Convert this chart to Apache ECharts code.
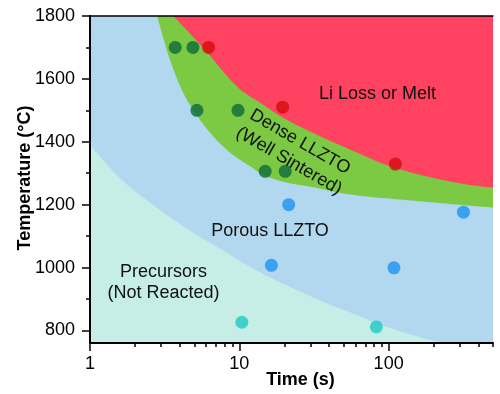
<!DOCTYPE html>
<html>
<head>
<meta charset="utf-8">
<script src="https://cdn.jsdelivr.net/npm/echarts@6/dist/echarts.min.js"></script>
<style>
html,body{margin:0;padding:0;background:#fff;}
#chart{width:500px;height:394px;}
</style>
</head>
<body>
<div id="chart"></div>
<script>
// ---- Data ----
const tempTicks = [800, 1000, 1200, 1400, 1600, 1800];
const tempMinorTicks = [900, 1100, 1300, 1500, 1700];
const timeTicks = [1, 10, 100];
const timeMinorTicks = [2, 3, 4, 5, 6, 7, 8, 9, 20, 30, 40, 50, 60, 70, 80, 90, 200, 300, 400, 500];

// region boundaries [time (s), temperature (°C)]
const meltBoundary = [[3.61, 1800], [5.65, 1702], [9.7, 1575], [13.8, 1524], [19.7, 1476], [30, 1432], [55.6, 1375], [111, 1317], [261, 1273], [500, 1254]];
const denseBoundary = [[2.82, 1800], [3.44, 1660], [4.21, 1556], [4.91, 1502], [6.38, 1429], [8.7, 1365], [11.9, 1321], [14.5, 1295], [19.7, 1273], [30, 1257], [55.6, 1232], [120, 1216], [500, 1190]];
const precursorBoundary = [[1, 1390], [1.62, 1281], [2.72, 1195], [4.55, 1121], [7.6, 1057], [12.7, 994], [21.3, 941], [35.7, 893], [59.8, 851], [100, 809], [167, 777], [241, 760]];

// experimental points [time (s), temperature (°C)]
const densePoints = [[3.72, 1700], [4.89, 1700], [5.2, 1500], [9.8, 1500], [14.9, 1306], [20.3, 1306]];
const meltPoints = [[6.22, 1700], [19.5, 1510], [111, 1329]];
const porousPoints = [[21.4, 1200], [16.4, 1007], [108.6, 999], [317, 1176]];
const precursorPoints = [[10.4, 826], [82.7, 811]];

// ---- Chart ----
const FONT = 'Liberation Sans, Arial, sans-serif';
const TMIN = 1, TMAX = 500;
const chart = echarts.init(document.getElementById('chart'), null, {renderer: 'canvas'});

// log-space helper axes used only to place tick marks/labels of the log time axis
const logTicks = timeTicks.map(v => Math.log10(v));
const logMinorTicks = timeMinorTicks.map(v => Math.log10(v));
const tickX = {type: 'value', min: Math.log10(TMIN), max: Math.log10(TMAX), gridIndex: 0, z: 10, splitLine: {show: false}, axisLine: {show: false}};
const baseY = {type: 'value', min: 760, max: 1800, minInterval: 200, maxInterval: 200, gridIndex: 0, z: 10, splitLine: {show: false}};

const option = {
  animation: false,
  grid: {left: 90, top: 16, right: 7, bottom: 51, show: true, backgroundColor: '#b2d8ef', borderWidth: 0},
  xAxis: [
    {type: 'log', logBase: 10, min: TMIN, max: TMAX, position: 'bottom', z: 10, splitLine: {show: false},
      axisLine: {show: true, lineStyle: {color: '#000', width: 2}}, axisTick: {show: false}, axisLabel: {show: false}},
    Object.assign({}, tickX, {
      position: 'bottom',
      axisTick: {show: true, inside: false, length: 8, lineStyle: {color: '#000', width: 1.5}, customValues: logTicks},
      axisLabel: {show: true, margin: 12, color: '#000', fontSize: 18, fontFamily: FONT, customValues: logTicks,
        formatter: v => String(Math.round(Math.pow(10, v)))}
    }),
    Object.assign({}, tickX, {
      position: 'bottom',
      axisTick: {show: true, inside: false, length: 4, lineStyle: {color: '#000', width: 1.5}, customValues: logMinorTicks},
      axisLabel: {show: false}
    }),
    Object.assign({}, tickX, {
      position: 'top',
      axisLine: {show: true, lineStyle: {color: '#000', width: 1.5}},
      axisTick: {show: false},
      axisLabel: {show: false}
    })
  ],
  yAxis: [
    Object.assign({}, baseY, {
      position: 'left',
      axisLine: {show: true, lineStyle: {color: '#000', width: 2}},
      axisTick: {show: true, inside: false, length: 8, lineStyle: {color: '#000', width: 1.5}, customValues: tempTicks},
      axisLabel: {show: true, margin: 15, color: '#000', fontSize: 18, fontFamily: FONT, customValues: tempTicks,
        formatter: v => String(v)}
    }),
    Object.assign({}, baseY, {
      position: 'left',
      axisLine: {show: false},
      axisTick: {show: true, inside: false, length: 4, lineStyle: {color: '#000', width: 1.5}, customValues: tempMinorTicks},
      axisLabel: {show: false}
    }),
    Object.assign({}, baseY, {
      position: 'right',
      axisLine: {show: true, lineStyle: {color: '#000', width: 1.5}},
      axisTick: {show: false},
      axisLabel: {show: false}
    })
  ],
  series: [
    {type: 'line', data: precursorBoundary, smooth: 0.4, symbol: 'none', lineStyle: {width: 0}, areaStyle: {color: '#c6ede6', origin: 'start', opacity: 1}, z: 1},
    {type: 'line', data: denseBoundary, smooth: 0.4, symbol: 'none', lineStyle: {width: 0}, areaStyle: {color: '#7cc943', origin: 'end', opacity: 1}, z: 1},
    {type: 'line', data: meltBoundary, smooth: 0.4, symbol: 'none', lineStyle: {width: 0}, areaStyle: {color: '#ff425f', origin: 'end', opacity: 1}, z: 1},
    {type: 'scatter', data: densePoints, symbolSize: 13, itemStyle: {color: '#0c6a3b'}, z: 5},
    {type: 'scatter', data: meltPoints, symbolSize: 13, itemStyle: {color: '#d40b0b'}, z: 5},
    {type: 'scatter', data: porousPoints, symbolSize: 13, itemStyle: {color: '#1b92f2'}, z: 5},
    {type: 'scatter', data: precursorPoints, symbolSize: 13, itemStyle: {color: '#1ec9c6'}, z: 5}
  ],
  graphic: [
    {type: 'text', x: 377.5, y: 94.5, z: 20, style: {text: 'Li Loss or Melt', font: '18px ' + FONT, fill: '#111', align: 'center', verticalAlign: 'middle'}},
    {type: 'text', x: 294.5, y: 151.5, rotation: -30 * Math.PI / 180, z: 20, style: {text: 'Dense LLZTO\n(Well Sintered)', font: '18px ' + FONT, lineHeight: 22, fill: '#111', align: 'center', verticalAlign: 'middle'}},
    {type: 'text', x: 270, y: 231.5, z: 20, style: {text: 'Porous LLZTO', font: '18px ' + FONT, fill: '#111', align: 'center', verticalAlign: 'middle'}},
    {type: 'text', x: 163.5, y: 283, z: 20, style: {text: 'Precursors\n(Not Reacted)', font: '18px ' + FONT, lineHeight: 21, fill: '#111', align: 'center', verticalAlign: 'middle'}},
    {type: 'text', x: 25, y: 178, rotation: Math.PI / 2, z: 20, style: {text: 'Temperature (°C)', font: 'bold 18px ' + FONT, fill: '#000', align: 'center', verticalAlign: 'middle'}},
    {type: 'text', x: 300.5, y: 380, z: 20, style: {text: 'Time (s)', font: 'bold 18px ' + FONT, fill: '#000', align: 'center', verticalAlign: 'middle'}}
  ]
};
chart.setOption(option);
</script>
</body>
</html>
